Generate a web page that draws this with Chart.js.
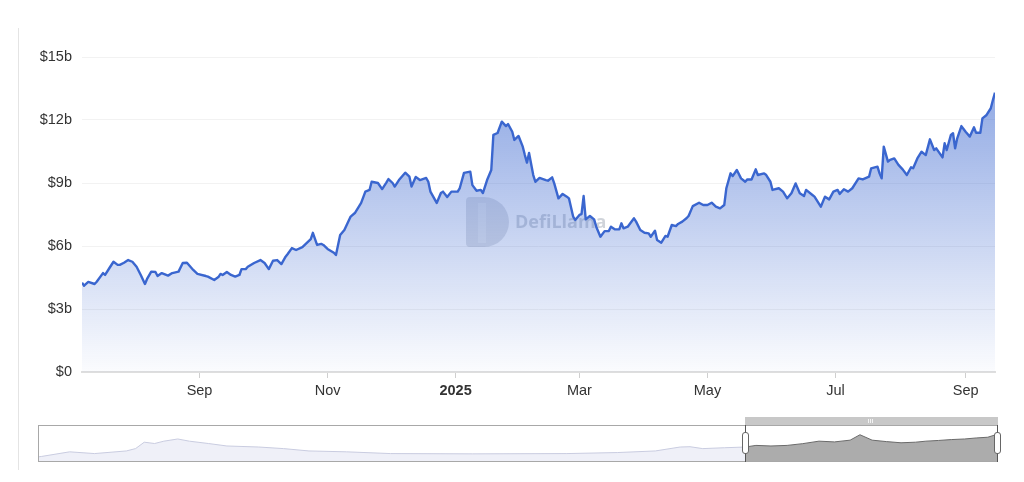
<!DOCTYPE html>
<html>
<head>
<meta charset="utf-8">
<script src="https://cdn.jsdelivr.net/npm/chart.js@4.4.1/dist/chart.umd.min.js"></script>
<style>
  html, body { margin: 0; padding: 0; background: #fff; }
  body { width: 1024px; height: 482px; position: relative; overflow: hidden; font-family: "Liberation Sans", Arial, sans-serif; }
  #edge { position: absolute; left: 18px; top: 28px; width: 1px; height: 442px; background: #e4e4e4; }
  #main { position: absolute; left: 0; top: 0; width: 1024px; height: 410px; }
  #navBox { position: absolute; left: 38px; top: 425px; width: 960px; height: 37px; border: 1px solid #a8a8a8; box-sizing: border-box; }
  #nav { position: absolute; left: 0; top: 0; width: 958px; height: 35px; }
  #selBar { position: absolute; left: 745px; top: 417px; width: 253px; height: 8px; background: #c8c8c8; }
  .grip { position: absolute; top: 2px; width: 1px; height: 4px; background: #f2f2f2; }
  .vline { position: absolute; top: 425px; width: 1px; height: 37px; background: #555; }
  .handle { position: absolute; top: 432px; width: 7px; height: 22px; background: #fff; border: 1px solid #666; border-radius: 3px; box-sizing: border-box; }
</style>
</head>
<body>
<div id="edge"></div>
<div id="main"><canvas id="tvlChart"></canvas></div>
<div id="selBar"><div class="grip" style="left:123px"></div><div class="grip" style="left:125px"></div><div class="grip" style="left:127px"></div></div>
<div id="navBox"><div id="nav"><canvas id="navChart"></canvas></div></div>
<div class="vline" style="left:745px"></div>
<div class="vline" style="left:997px"></div>
<div class="handle" style="left:742px"></div>
<div class="handle" style="left:994px"></div>
<script>
// days counted from 2024-07-01
var days = [6,7,9,12,13,16,17,19,21,23,24,26,28,30,32,34,36,37,39,41,42,44,47,49,52,54,56,59,61,65,66,69,71,72,73,75,77,79,81,82,84,85,88,91,93,95,97,99,101,103,104,106,108,111,113,115,
  116,118,120,121,123,126,127,129,131,134,136,139,141,143,144,147,149,151,152,154,155,157,160,162,163,165,167,170,171,172,175,177,178,180,182,185,186,188,191,192,194,196,197,199,201,202,204,206,208,209,211,212,214,216,217,218,219,221,222,224,
  227,228,230,231,233,235,237,238,240,241,243,244,245,246,248,250,251,253,255,257,258,260,262,263,264,266,269,270,272,274,276,277,279,280,282,284,285,287,289,290,292,294,295,297,300,302,304,306,308,310,312,313,315,316,318,320,322,323,325,327,328,331,332,334,
  335,338,340,342,344,346,348,350,351,354,355,358,360,362,364,366,367,369,371,373,376,378,381,382,385,386,387,388,390,391,393,395,397,399,401,402,404,406,408,410,412,413,416,417,418,420,421,422,423,425,427,429,431,432,434,435,437,439,440,441];
// TVL in $b
var tvl = [4.25,4.11,4.29,4.19,4.3,4.71,4.62,4.94,5.25,5.1,5.1,5.2,5.33,5.25,5.01,4.62,4.19,4.43,4.78,4.76,4.57,4.71,4.59,4.71,4.78,5.19,5.2,4.86,4.67,4.57,4.54,4.38,4.52,4.67,4.62,4.76,4.62,4.54,4.62,4.9,4.9,5.01,5.19,5.33,5.19,4.9,5.3,5.33,5.14,5.49,5.62,5.9,5.81,5.95,6.14,6.33,
  6.63,6.05,6.1,6.05,5.86,5.68,5.57,6.52,6.76,7.4,7.57,8.05,8.59,8.67,9.06,9.0,8.71,9.02,9.19,9.0,8.83,9.14,9.49,9.3,8.83,9.29,9.14,9.24,9.06,8.59,8.05,8.52,8.59,8.33,8.59,8.59,8.76,9.48,9.54,8.9,8.63,8.67,8.52,9.14,9.62,11.29,11.38,11.92,11.71,11.81,11.44,11.05,11.24,10.73,10.33,9.97,10.43,9.38,9.06,9.24,
  9.14,9.11,9.27,8.98,8.27,8.48,8.35,8.27,7.4,7.24,7.48,7.52,8.38,7.27,7.43,7.27,6.92,6.44,6.71,6.71,6.92,6.79,6.79,7.08,6.84,6.92,7.32,7.16,6.76,6.63,6.6,6.44,6.73,6.29,6.16,6.48,6.44,7.0,6.95,7.05,7.16,7.32,7.43,7.9,8.06,7.95,7.95,8.06,7.87,7.79,7.95,8.75,9.46,9.33,9.62,9.22,9.06,9.17,9.17,9.65,9.38,9.46,9.38,9.06,
  8.67,8.75,8.59,8.27,8.51,8.98,8.51,8.38,8.67,8.43,8.35,7.87,8.35,8.22,8.59,8.67,8.48,8.7,8.59,8.75,9.22,9.17,9.3,9.7,9.78,9.46,9.22,10.73,10.02,10.1,10.17,9.86,9.65,9.38,9.75,9.7,10.17,10.49,10.33,11.08,10.57,10.65,10.22,10.89,10.57,11.29,11.37,10.65,11.13,11.71,11.44,11.21,11.65,11.39,11.39,12.08,12.24,12.56,12.95,13.3];

var tickDays = [62,123,184,243,304,365,427];
var tickLabels = ['Sep','Nov','2025','Mar','May','Jul','Sep'];
var yTicks = [0,3,6,9,12,15];

// overview strip (full history, relative units)
var navDays = [-1216,-1212,-1163,-1120,-1065,-1049,-1034,-1016,-1000,-976,-956,-923,-891,-836,-793,-749,-684,-608,-466,-303,-215,-150,-107,-90,-68,-30,6];
var navVals = [2.2,2.4,5.6,4.4,6.2,7.8,12.2,11.3,12.9,14.4,12.9,11.3,9.6,8.9,7.8,6.2,5.6,4.4,4.2,4.4,5.1,6.2,8.9,9.1,7.8,8.4,8.9];
var navSelDays = [6,24,50,78,105,133,160,187,204,225,250,275,300,318,340,362,385,405,425,438,441];
var navSelVals = [8.9,10,9.6,10,11.2,12.9,12.4,13.6,17.3,13.6,12.6,11.8,12.2,12.9,13.4,14,14.4,15.1,15.6,17.2,18];

var watermark = {
  id: 'watermark',
  beforeDatasetsDraw: function(chart) {
    var c = chart.ctx;
    c.save();
    c.fillStyle = 'rgba(110,120,140,0.22)';
    c.beginPath();
    c.moveTo(470, 197);
    c.lineTo(484, 197);
    c.arc(484, 222, 25, -Math.PI / 2, Math.PI / 2);
    c.lineTo(470, 247);
    c.quadraticCurveTo(466, 247, 466, 243);
    c.lineTo(466, 201);
    c.quadraticCurveTo(466, 197, 470, 197);
    c.fill();
    c.fillStyle = 'rgba(255,255,255,0.3)';
    c.fillRect(478, 203, 8, 40);
    c.fillStyle = 'rgba(110,120,140,0.32)';
    c.font = 'bold 18px "Open Sans", "Liberation Sans", sans-serif';
    c.textBaseline = 'middle';
    c.fillText('DefiLlama', 515, 223);
    c.restore();
  }
};

var ctx = document.getElementById('tvlChart');
new Chart(ctx, {
  type: 'line',
  data: {
    datasets: [{
      data: days.map(function(d, i) { return { x: d, y: tvl[i] }; }),
      borderColor: '#3a66cf',
      borderWidth: 2.4,
      borderJoinStyle: 'round',
      pointRadius: 0,
      tension: 0,
      fill: 'start',
      backgroundColor: function(context) {
        var area = context.chart.chartArea;
        if (!area) return 'rgba(58,102,207,0.2)';
        var g = context.chart.ctx.createLinearGradient(0, area.top, 0, area.bottom);
        g.addColorStop(0, 'rgba(58,102,207,0.62)');
        g.addColorStop(1, 'rgba(58,102,207,0.02)');
        return g;
      }
    }]
  },
  options: {
    responsive: true,
    maintainAspectRatio: false,
    animation: false,
    layout: { padding: { top: 57, right: 29, left: 0, bottom: 0 } },
    plugins: { legend: { display: false }, tooltip: { enabled: false } },
    scales: {
      x: {
        type: 'linear',
        min: 6,
        max: 441,
        afterFit: function(s) { s.height = 38; },
        afterBuildTicks: function(s) { s.ticks = tickDays.map(function(v) { return { value: v }; }); },
        grid: { drawOnChartArea: false, drawTicks: true, tickLength: 6, color: '#cfcfcf' },
        border: { display: true, color: '#dedede', width: 2 },
        ticks: {
          autoSkip: false,
          maxRotation: 0,
          padding: 4,
          color: '#333',
          font: function(c) {
            var bold = c.index === 2;
            return { family: '"Liberation Sans", Arial, sans-serif', size: 14.5, weight: bold ? 'bold' : 'normal' };
          },
          callback: function(v, i) { return tickLabels[i]; }
        }
      },
      y: {
        min: 0,
        max: 15,
        afterFit: function(s) { s.width = 82; },
        afterBuildTicks: function(s) { s.ticks = yTicks.map(function(v) { return { value: v }; }); },
        grid: { color: '#f2f2f2', drawTicks: false },
        border: { display: false },
        ticks: {
          padding: 10,
          color: '#333',
          font: { family: '"Liberation Sans", Arial, sans-serif', size: 14.5 },
          callback: function(v) { return v === 0 ? '$0' : '$' + v + 'b'; }
        }
      }
    }
  },
  plugins: [watermark]
});

new Chart(document.getElementById('navChart'), {
  type: 'line',
  data: {
    datasets: [{
      data: navDays.map(function(d, i) { return { x: d, y: navVals[i] }; }),
      borderColor: '#c9cce0',
      borderWidth: 1,
      pointRadius: 0,
      fill: 'start',
      backgroundColor: '#eff0f8'
    }, {
      data: navSelDays.map(function(d, i) { return { x: d, y: navSelVals[i] }; }),
      borderColor: '#6a6a6a',
      borderWidth: 1,
      pointRadius: 0,
      fill: 'start',
      backgroundColor: '#acacac'
    }]
  },
  options: {
    responsive: true,
    maintainAspectRatio: false,
    animation: false,
    layout: { padding: 0 },
    plugins: { legend: { display: false }, tooltip: { enabled: false } },
    scales: {
      x: { type: 'linear', min: -1216, max: 441, display: false },
      y: { min: -0.7, max: 23.3, display: false }
    }
  }
});
</script>
</body>
</html>
